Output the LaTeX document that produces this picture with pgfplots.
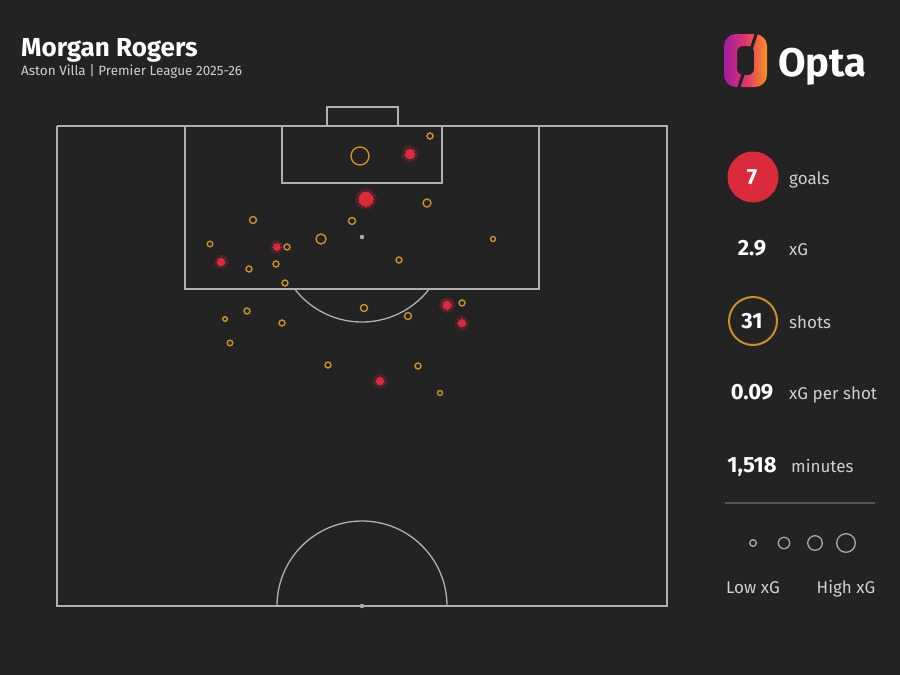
\documentclass[border=0pt]{standalone}
\usepackage{pgfplots}
\pgfplotsset{compat=1.18}
\usepackage{fontspec}
\setmainfont{Fira Sans}
\definecolor{bg}{HTML}{232323}
\definecolor{pitch}{HTML}{B0B0B0}
\definecolor{shotorange}{HTML}{C98F2C}
\definecolor{goalred}{HTML}{DA2A3C}
\definecolor{lbl}{HTML}{CFCFCF}
\definecolor{lgd}{HTML}{A8A8A8}
\definecolor{sep}{HTML}{555555}
\definecolor{optapurple}{HTML}{A51C9E}
\definecolor{optapink}{HTML}{E0356E}
\definecolor{optaorange}{HTML}{F7931E}

\pgfplotstableread{
x y r
430 136 3
360 156 9
427 203 4
253 220 3.5
352 221 3.5
321 239 5
493 239 2.5
210 244 2.8
287 247 3
249 269 3
276 264 3
399 260 3
285 283 3
364 308 3.5
247 311 3
225 319 2.3
282 323 3
408 316 3.5
462 303 3
230 343 2.8
328 365 3
418 366 3
440 393 2.5
}\shots

\pgfplotstableread{
x y r g h
410 154 4.5 8 6.3
366 199 7 10.5 8.8
277 247 3.2 6.5 4.9
221 262 3.5 7 5.2
447 305 4 7.5 5.8
462 323 3.5 7 5.2
380 381 3.5 7 5.2
}\goals

\pgfplotstableread{
x y r
753 543 3.3
784 543 5.7
815 543 7.3
846 543 9.3
}\legendsizes

\tikzset{
  num/.style={anchor=base, text=white, font=\fontsize{22}{24}\selectfont\bfseries, inner sep=0},
  lab/.style={anchor=base west, text=lbl, font=\fontsize{17}{19}\selectfont, inner sep=0},
}

\begin{document}
\begin{tikzpicture}
\begin{axis}[
  width=900pt, height=675pt, scale only axis,
  xmin=0, xmax=900, ymin=0, ymax=675, y dir=reverse,
  axis lines=none, ticks=none, clip=false,
]
% background
\fill[bg] (axis cs:0,0) rectangle (axis cs:900,675);

% pitch
\addplot[pitch, line width=1.3pt, mark=none] coordinates {(57,126) (667,126) (667,606) (57,606) (57,126)};
\addplot[pitch, line width=1.3pt, mark=none] coordinates {(185,126) (185,289) (539,289) (539,126)};
\addplot[pitch, line width=1.3pt, mark=none] coordinates {(282,126) (282,183) (442,183) (442,126)};
\addplot[pitch, line width=1.3pt, mark=none] coordinates {(327,126) (327,107) (398,107) (398,126)};
\draw[pitch, line width=1.3pt] (axis cs:429.2,289) arc[start angle=-37.7, end angle=-142.3, radius=85pt];
\draw[pitch, line width=1.3pt] (axis cs:447,606) arc[start angle=0, end angle=180, radius=85pt];
\addplot[only marks, mark=*, mark size=2pt, color=pitch] coordinates {(362,237) (362,606)};

% shots (no goal)
\addplot[scatter, only marks, mark=*,
  scatter/use mapped color={draw=shotorange, fill=bg},
  visualization depends on={\thisrow{r} \as \rad},
  scatter/@pre marker code/.append style={/tikz/mark size=\rad pt},
  mark options={line width=1.4pt}]
  table[x=x, y=y] {\shots};

% goal glow (two soft layers)
\addplot[scatter, only marks, mark=*,
  scatter/use mapped color={draw=goalred, fill=goalred, opacity=0.10},
  visualization depends on={\thisrow{g} \as \rad},
  scatter/@pre marker code/.append style={/tikz/mark size=\rad pt},
  mark options={line width=0pt}]
  table[x=x, y=y] {\goals};
\addplot[scatter, only marks, mark=*,
  scatter/use mapped color={draw=goalred, fill=goalred, opacity=0.18},
  visualization depends on={\thisrow{h} \as \rad},
  scatter/@pre marker code/.append style={/tikz/mark size=\rad pt},
  mark options={line width=0pt}]
  table[x=x, y=y] {\goals};
% goals
\addplot[scatter, only marks, mark=*,
  scatter/use mapped color={draw=goalred, fill=goalred},
  visualization depends on={\thisrow{r} \as \rad},
  scatter/@pre marker code/.append style={/tikz/mark size=\rad pt},
  mark options={line width=0pt}]
  table[x=x, y=y] {\goals};

% title
\node[anchor=base west, text=white, font=\fontsize{26}{28}\selectfont\bfseries, inner sep=0] at (axis cs:21,56) {Morgan Rogers};
\node[anchor=base west, text=lbl, font=\fontsize{13.5}{15}\selectfont, inner sep=0] at (axis cs:21,75) {Aston Villa | Premier League 2025-26};

% Opta logo
\shade[left color=optapurple, right color=optaorange, middle color=optapink, even odd rule]
  [rounded corners=12pt] (axis cs:724,34) rectangle (axis cs:767,87)
  [rounded corners=6pt] (axis cs:737,46) rectangle (axis cs:754,75);
\draw[bg, line width=3pt] (axis cs:758,28) -- (axis cs:737,93);
\node[anchor=base west, text=white, font=\fontsize{40}{42}\selectfont\bfseries, inner sep=0] at (axis cs:778,76) {Opta};

% stats panel
\node[circle, fill=goalred, minimum size=51pt, inner sep=0] at (axis cs:753,177) {};
\node[circle, draw=shotorange, line width=2pt, minimum size=48pt, inner sep=0] at (axis cs:753,321) {};
\node[num] at (axis cs:752,184.5) {7};
\node[lab] at (axis cs:789,184) {goals};
\node[num] at (axis cs:752,255.5) {2.9};
\node[lab] at (axis cs:789,255) {xG};
\node[num] at (axis cs:752,328.5) {31};
\node[lab] at (axis cs:789,328) {shots};
\node[num] at (axis cs:752,399.5) {0.09};
\node[lab] at (axis cs:789,399) {xG per shot};
\node[num] at (axis cs:752,472.5) {1,518};
\node[lab] at (axis cs:791,472) {minutes};
\draw[sep, line width=2pt] (axis cs:725,503) -- (axis cs:875,503);

% legend sizes
\addplot[scatter, only marks, mark=*,
  scatter/use mapped color={draw=lgd, fill=bg},
  visualization depends on={\thisrow{r} \as \rad},
  scatter/@pre marker code/.append style={/tikz/mark size=\rad pt},
  mark options={line width=1.3pt}]
  table[x=x, y=y] {\legendsizes};
\node[lab, anchor=base] at (axis cs:753,593) {Low xG};
\node[lab, anchor=base] at (axis cs:846,593) {High xG};
\end{axis}
\end{tikzpicture}
\end{document}
